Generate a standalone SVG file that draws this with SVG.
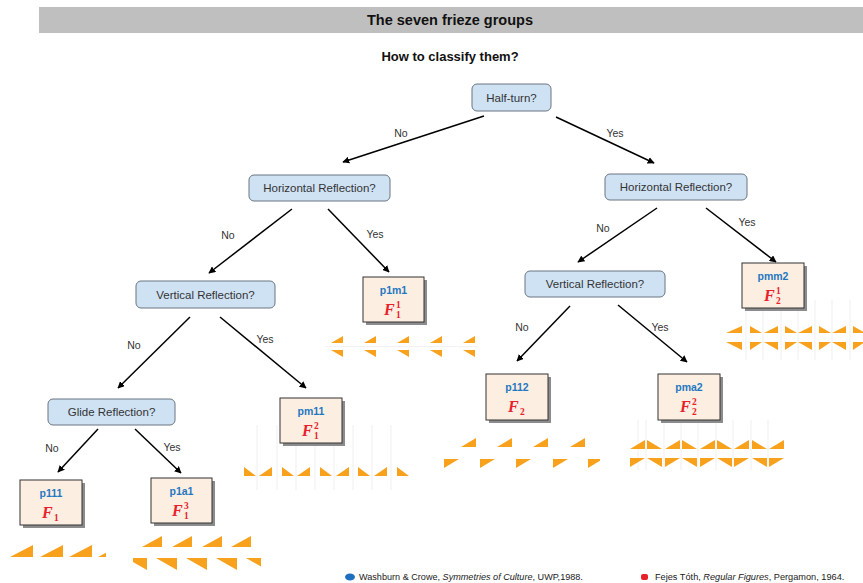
<svg xmlns="http://www.w3.org/2000/svg" width="863" height="583" viewBox="0 0 863 583">
<style>
.t{font-family:"Liberation Sans",Arial,sans-serif}
.q rect{fill:#cfe2f3;stroke:#6b7480;stroke-width:1}
.q text{font-family:"Liberation Sans",Arial,sans-serif;font-size:11.5px;fill:#333;text-anchor:middle}
.r .sh{fill:#8c8c8c}
.r .bx{fill:#fdeee2;stroke:#333;stroke-width:1}
.r .nm{font-family:"Liberation Sans",Arial,sans-serif;font-weight:bold;font-size:10.5px;fill:#1f78c1;text-anchor:middle}
.r .f{font-family:"Liberation Serif","Times New Roman",serif;font-weight:bold;font-style:italic;font-size:16px;fill:#e8202a}
.r .s{font-family:"Liberation Serif","Times New Roman",serif;font-weight:bold;font-size:9.5px;fill:#e8202a}
.lbl{font-family:"Liberation Sans",Arial,sans-serif;font-size:10.5px;fill:#333;text-anchor:middle}
.cn line{stroke:#000;stroke-width:1.5;marker-end:url(#ah)}
.o{fill:#f8a11d}
.fl{stroke:#f2f2f2;stroke-width:1.2}
</style>
<defs>
<marker id="ah" viewBox="0 0 10 10" refX="9" refY="5" markerWidth="7" markerHeight="7" orient="auto" markerUnits="userSpaceOnUse">
<path d="M0,0 L10,5 L0,10 z" fill="#000"/>
</marker>
<clipPath id="c1"><rect x="133" y="530" width="128" height="45"/></clipPath>
<clipPath id="c2"><rect x="440" y="430" width="160" height="45"/></clipPath>
<clipPath id="c3"><rect x="700" y="300" width="163" height="60"/></clipPath>
<clipPath id="c4"><rect x="0" y="540" width="106" height="20"/></clipPath>
</defs>
<rect width="863" height="583" fill="#fff"/>
<rect x="39" y="7" width="824" height="26" fill="#bfbfbf"/>
<text class="t" x="450" y="25" font-size="14.5" font-weight="bold" text-anchor="middle" fill="#111">The seven frieze groups</text>
<text class="t" x="450" y="61" font-size="13" font-weight="bold" text-anchor="middle" fill="#111">How to classify them?</text>

<g id="pattern-p111" clip-path="url(#c4)">
<polygon class="o" points="10,557 33,545 33,557"/>
<polygon class="o" points="40,557 63,545 63,557"/>
<polygon class="o" points="69,557 92,545 92,557"/>
<polygon class="o" points="98,557 121,545 121,557"/>
</g>
<g id="pattern-p1a1" clip-path="url(#c1)">
<polygon class="o" points="142,547 162,536 162,547"/>
<polygon class="o" points="172,547 192,536 192,547"/>
<polygon class="o" points="202,547 222,536 222,547"/>
<polygon class="o" points="231,547 251,536 251,547"/>
<polygon class="o" points="126,558 147,558 147,570"/>
<polygon class="o" points="156,558 177,558 177,570"/>
<polygon class="o" points="186,558 207,558 207,570"/>
<polygon class="o" points="216,558 237,558 237,570"/>
<polygon class="o" points="246,558 267,558 267,570"/>
</g>
<g id="pattern-p1m1">
<line x1="325" y1="346.5" x2="477" y2="346.5" class="fl"/>
<polygon class="o" points="331,343 343,336 343,343"/>
<polygon class="o" points="364,343 376,336 376,343"/>
<polygon class="o" points="397,343 409,336 409,343"/>
<polygon class="o" points="430,343 442,336 442,343"/>
<polygon class="o" points="463,343 475,336 475,343"/>
<polygon class="o" points="331,350 343,350 343,357"/>
<polygon class="o" points="364,350 376,350 376,357"/>
<polygon class="o" points="397,350 409,350 409,357"/>
<polygon class="o" points="430,350 442,350 442,357"/>
<polygon class="o" points="463,350 475,350 475,357"/>
</g>
<g id="pattern-pm11">
<line class="fl" x1="257" y1="425" x2="257" y2="490"/>
<line class="fl" x1="277" y1="425" x2="277" y2="490"/>
<line class="fl" x1="296" y1="425" x2="296" y2="490"/>
<line class="fl" x1="315" y1="425" x2="315" y2="490"/>
<line class="fl" x1="334" y1="425" x2="334" y2="490"/>
<line class="fl" x1="353" y1="425" x2="353" y2="490"/>
<line class="fl" x1="372" y1="425" x2="372" y2="490"/>
<line class="fl" x1="391" y1="425" x2="391" y2="490"/>
<polygon class="o" points="244,467 244,476 256,476"/>
<polygon class="o" points="259,476 272,467 272,476"/>
<polygon class="o" points="282,467 282,476 294,476"/>
<polygon class="o" points="297,476 310,467 310,476"/>
<polygon class="o" points="320,467 320,476 332,476"/>
<polygon class="o" points="336,476 349,467 349,476"/>
<polygon class="o" points="358,467 358,476 370,476"/>
<polygon class="o" points="374,476 387,467 387,476"/>
<polygon class="o" points="397,467 397,476 409,476"/>
</g>
<g id="pattern-p112" clip-path="url(#c2)">
<polygon class="o" points="461,447 476,438 476,447"/>
<polygon class="o" points="497,447 512,438 512,447"/>
<polygon class="o" points="533,447 548,438 548,447"/>
<polygon class="o" points="570,447 585,438 585,447"/>
<polygon class="o" points="444,459 459,459 444,468"/>
<polygon class="o" points="480,459 495,459 480,468"/>
<polygon class="o" points="516,459 531,459 516,468"/>
<polygon class="o" points="553,459 568,459 553,468"/>
<polygon class="o" points="588,459 603,459 588,468"/>
</g>
<g id="pattern-pma2">
<line class="fl" x1="638" y1="420" x2="638" y2="470"/>
<line class="fl" x1="646" y1="420" x2="646" y2="470"/>
<line class="fl" x1="664" y1="420" x2="664" y2="470"/>
<line class="fl" x1="681" y1="420" x2="681" y2="470"/>
<line class="fl" x1="698" y1="420" x2="698" y2="470"/>
<line class="fl" x1="716" y1="420" x2="716" y2="470"/>
<line class="fl" x1="733" y1="420" x2="733" y2="470"/>
<line class="fl" x1="751" y1="420" x2="751" y2="470"/>
<line class="fl" x1="768" y1="420" x2="768" y2="470"/>
<polygon class="o" points="630,449 645,440 645,449"/>
<polygon class="o" points="647,440 647,449 662,449"/>
<polygon class="o" points="665,449 680,440 680,449"/>
<polygon class="o" points="682,440 682,449 697,449"/>
<polygon class="o" points="700,449 715,440 715,449"/>
<polygon class="o" points="717,440 717,449 732,449"/>
<polygon class="o" points="734,449 749,440 749,449"/>
<polygon class="o" points="752,440 752,449 767,449"/>
<polygon class="o" points="769,449 784,440 784,449"/>
<polygon class="o" points="630,458 645,458 630,467"/>
<polygon class="o" points="647,458 662,458 662,467"/>
<polygon class="o" points="665,458 680,458 665,467"/>
<polygon class="o" points="682,458 697,458 697,467"/>
<polygon class="o" points="700,458 715,458 700,467"/>
<polygon class="o" points="717,458 732,458 732,467"/>
<polygon class="o" points="734,458 749,458 734,467"/>
<polygon class="o" points="752,458 767,458 767,467"/>
<polygon class="o" points="769,458 784,458 769,467"/>
</g>
<g id="pattern-pmm2" clip-path="url(#c3)">
<line class="fl" x1="746" y1="300" x2="746" y2="360"/>
<line class="fl" x1="763" y1="300" x2="763" y2="360"/>
<line class="fl" x1="781" y1="300" x2="781" y2="360"/>
<line class="fl" x1="798" y1="300" x2="798" y2="360"/>
<line class="fl" x1="815" y1="300" x2="815" y2="360"/>
<line class="fl" x1="832" y1="300" x2="832" y2="360"/>
<line class="fl" x1="850" y1="300" x2="850" y2="360"/>
<polygon class="o" points="726,333 742,326 742,333"/>
<polygon class="o" points="750,326 750,333 762,333"/>
<polygon class="o" points="764,333 778,326 778,333"/>
<polygon class="o" points="785,326 785,333 797,333"/>
<polygon class="o" points="798,333 812,326 812,333"/>
<polygon class="o" points="819,326 819,333 831,333"/>
<polygon class="o" points="832,333 846,326 846,333"/>
<polygon class="o" points="853,326 853,333 865,333"/>
<polygon class="o" points="726,342 742,342 742,350"/>
<polygon class="o" points="750,342 762,342 750,350"/>
<polygon class="o" points="764,342 778,342 778,350"/>
<polygon class="o" points="785,342 797,342 785,350"/>
<polygon class="o" points="798,342 812,342 812,350"/>
<polygon class="o" points="819,342 831,342 819,350"/>
<polygon class="o" points="832,342 846,342 846,350"/>
<polygon class="o" points="853,342 865,342 853,350"/>
</g>

<g id="connectors" class="cn">
<line x1="484" y1="116" x2="343" y2="162"/>
<line x1="556" y1="117" x2="654" y2="163"/>
<line x1="292" y1="209" x2="209" y2="273"/>
<line x1="328" y1="209" x2="389" y2="272"/>
<line x1="657" y1="208" x2="578" y2="262"/>
<line x1="706" y1="208" x2="776" y2="262"/>
<line x1="190" y1="317" x2="118" y2="388"/>
<line x1="220" y1="317" x2="306" y2="388"/>
<line x1="570" y1="306" x2="517" y2="361"/>
<line x1="618" y1="305" x2="687" y2="362"/>
<line x1="98" y1="429" x2="58" y2="472"/>
<line x1="135" y1="429" x2="181" y2="473"/>
</g>
<g id="labels">
<text class="lbl" x="401" y="137">No</text>
<text class="lbl" x="615" y="137">Yes</text>
<text class="lbl" x="228" y="239">No</text>
<text class="lbl" x="375" y="238">Yes</text>
<text class="lbl" x="603" y="232">No</text>
<text class="lbl" x="747" y="226">Yes</text>
<text class="lbl" x="134" y="349">No</text>
<text class="lbl" x="265" y="343">Yes</text>
<text class="lbl" x="522" y="331">No</text>
<text class="lbl" x="660" y="331">Yes</text>
<text class="lbl" x="52" y="452">No</text>
<text class="lbl" x="172" y="451">Yes</text>
</g>

<g id="q-halfturn" class="q"><rect x="472" y="84" width="79" height="27" rx="5"/><text x="511.5" y="101.5">Half-turn?</text></g>
<g id="q-hr-left" class="q"><rect x="249" y="175" width="141" height="26" rx="5"/><text x="319.5" y="192">Horizontal Reflection?</text></g>
<g id="q-hr-right" class="q"><rect x="605" y="174" width="142" height="26" rx="5"/><text x="676" y="191">Horizontal Reflection?</text></g>
<g id="q-vr-left" class="q"><rect x="136" y="281" width="139" height="27" rx="5"/><text x="205.5" y="298.5">Vertical Reflection?</text></g>
<g id="q-vr-right" class="q"><rect x="525" y="271" width="140" height="26" rx="5"/><text x="595" y="288">Vertical Reflection?</text></g>
<g id="q-glide" class="q"><rect x="48" y="399" width="127" height="26" rx="5"/><text x="111.5" y="416">Glide Reflection?</text></g>

<g id="r-p111" class="r"><rect class="sh" x="23" y="483" width="62" height="45"/><rect class="bx" x="20" y="480" width="62" height="45"/><text class="nm" x="51" y="497">p111</text><text class="f" x="42" y="518">F</text><text class="s" x="54" y="521">1</text></g>
<g id="r-p1a1" class="r"><rect class="sh" x="154" y="481" width="61" height="45"/><rect class="bx" x="151" y="478" width="61" height="45"/><text class="nm" x="181.5" y="495">p1a1</text><text class="f" x="172" y="516">F</text><text class="s" x="184" y="519">1</text><text class="s" x="184" y="509">3</text></g>
<g id="r-p1m1" class="r"><rect class="sh" x="366" y="280" width="61" height="45"/><rect class="bx" x="363" y="277" width="61" height="45"/><text class="nm" x="393.5" y="294">p1m1</text><text class="f" x="384" y="315">F</text><text class="s" x="396" y="318">1</text><text class="s" x="396" y="308">1</text></g>
<g id="r-pm11" class="r"><rect class="sh" x="283" y="401" width="62" height="45"/><rect class="bx" x="280" y="398" width="62" height="45"/><text class="nm" x="311" y="415">pm11</text><text class="f" x="302" y="436">F</text><text class="s" x="314" y="439">1</text><text class="s" x="314" y="429">2</text></g>
<g id="r-p112" class="r"><rect class="sh" x="489" y="377" width="62" height="46"/><rect class="bx" x="486" y="374" width="62" height="46"/><text class="nm" x="517" y="391">p112</text><text class="f" x="508" y="412">F</text><text class="s" x="520" y="415">2</text></g>
<g id="r-pma2" class="r"><rect class="sh" x="661" y="377" width="62" height="46"/><rect class="bx" x="658" y="374" width="62" height="46"/><text class="nm" x="689" y="391">pma2</text><text class="f" x="680" y="412">F</text><text class="s" x="692" y="415">2</text><text class="s" x="692" y="405">2</text></g>
<g id="r-pmm2" class="r"><rect class="sh" x="745" y="266" width="62" height="45"/><rect class="bx" x="742" y="263" width="62" height="45"/><text class="nm" x="773" y="280">pmm2</text><text class="f" x="764" y="301">F</text><text class="s" x="776" y="304">2</text><text class="s" x="776" y="294">1</text></g>

<g id="footer">
<ellipse cx="350" cy="577" rx="5" ry="3.5" fill="#1f6fc0"/>
<text class="t" x="359" y="580" font-size="9.1" fill="#222">Washburn &amp; Crowe, <tspan font-style="italic">Symmetries of Culture</tspan>, UWP,1988.</text>
<rect x="641" y="574" width="7" height="6" rx="2" fill="#e8202a"/>
<text class="t" x="655" y="580" font-size="9.2" fill="#222">Fejes Tóth, <tspan font-style="italic">Regular Figures</tspan>, Pergamon, 1964.</text>
</g>
</svg>
